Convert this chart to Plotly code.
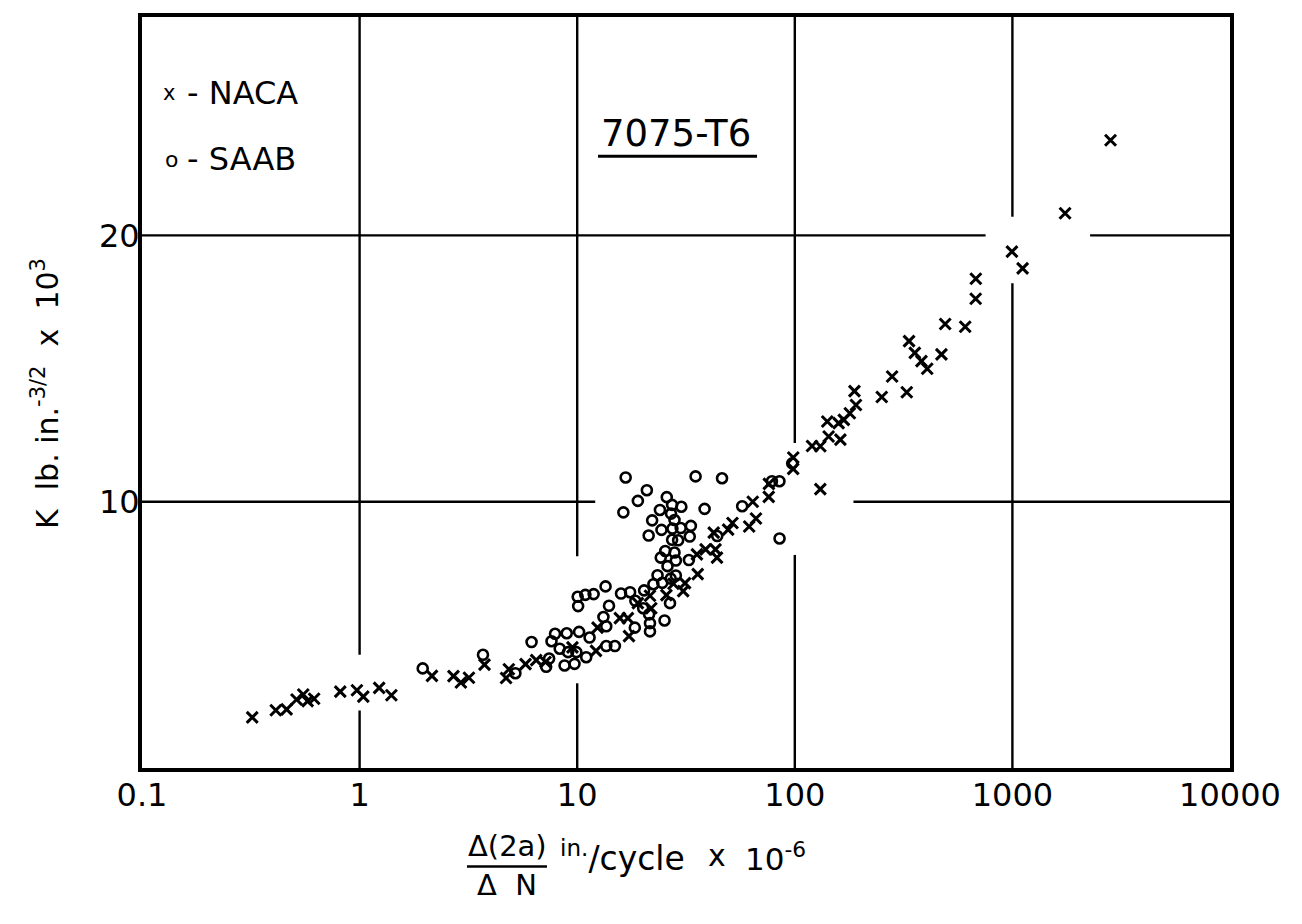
import plotly.graph_objects as go

# ---------------- data ----------------
naca_x = [0.321, 0.412, 0.462, 0.513, 0.551, 0.577, 0.618, 0.815, 0.972, 1.04,
          1.23, 1.40, 2.15, 2.70, 2.92, 3.18, 3.75, 4.71, 4.85, 5.79,
          6.48, 7.15, 9.51, 12.2, 12.4, 15.7, 17.1, 17.3, 19.0, 21.9,
          21.6, 25.7, 27.7, 30.7, 31.3, 35.8, 35.5, 38.9, 43.2, 43.9,
          42.4, 49.4, 51.7, 61.7, 66.3, 64.1, 75.9, 76.0, 98.4, 98.3,
          120, 131, 143, 162, 141, 159, 168, 131, 179, 188,
          191, 251, 280, 327, 335, 356, 382, 406, 472, 491,
          607, 679, 678, 995, 1114, 1746, 2825]
naca_k = [1.90, 2.17, 2.20, 2.57, 2.76, 2.51, 2.60, 2.87, 2.92, 2.68,
          3.01, 2.73, 3.46, 3.45, 3.21, 3.39, 3.88, 3.38, 3.71, 3.90,
          4.05, 3.98, 4.53, 4.40, 5.27, 5.63, 5.63, 4.95, 6.19, 6.00,
          6.47, 6.49, 6.92, 6.64, 6.94, 7.28, 8.02, 8.21, 8.21, 7.90,
          8.84, 8.95, 9.20, 9.07, 9.37, 10.0, 10.18, 10.67, 11.66, 11.23,
          12.09, 12.08, 12.45, 12.33, 13.01, 12.95, 13.07, 10.47, 13.32, 14.15,
          13.63, 13.93, 14.70, 14.11, 16.03, 15.59, 15.28, 14.99, 15.53, 16.67,
          16.57, 18.37, 17.62, 19.39, 18.76, 20.83, 23.57]

saab_x = [1.95, 3.69, 5.20, 6.17, 7.20, 7.43, 7.62, 7.91, 8.31, 8.75,
          8.95, 9.08, 9.72, 9.91, 10.2, 11.0, 11.4, 10.05, 10.9, 11.9,
          13.5, 10.1, 14.0, 13.2, 13.6, 13.6, 14.9, 15.9, 17.5, 18.5,
          18.4, 20.1, 20.3, 21.4, 21.6, 21.6, 22.4, 23.4, 24.6, 25.2,
          26.7, 26.9, 28.4, 26.0, 24.2, 28.4, 32.6, 25.4, 28.0, 21.3,
          27.3, 29.1, 32.9, 24.4, 27.4, 29.9, 33.3, 22.1, 28.0, 24.0,
          27.0, 27.3, 30.1, 25.8, 38.5, 16.3, 19.0, 20.9, 16.7, 35.0,
          46.3, 57.3, 44.0, 85.1, 78.5, 85.0, 97.3]
saab_k = [3.74, 4.25, 3.56, 4.73, 3.80, 4.11, 4.76, 5.04, 4.48, 3.85,
          5.06, 4.35, 3.91, 4.35, 5.11, 4.16, 4.90, 6.43, 6.50, 6.53,
          6.82, 6.08, 6.09, 5.67, 5.32, 4.58, 4.58, 6.55, 6.60, 6.28,
          5.27, 6.00, 6.67, 5.77, 5.44, 5.13, 6.90, 7.24, 6.95, 5.54,
          6.19, 7.11, 7.23, 7.58, 7.90, 7.79, 7.81, 8.15, 8.09, 8.73,
          8.57, 8.55, 8.69, 8.94, 8.99, 9.01, 9.09, 9.30, 9.31, 9.69,
          9.55, 9.88, 9.81, 10.17, 9.73, 9.60, 10.03, 10.43, 10.91, 10.95,
          10.88, 9.83, 8.71, 8.62, 10.77, 10.77, 11.44]

x_ticks = [0.1, 1, 10, 100, 1000, 10000]
x_tick_labels = ["0.1", "1", "10", "100", "1000", "10000"]
y_ticks = [10, 20]
y_tick_labels = ["10", "20"]

# grid lines with the hand-drawn gaps (value, gap start, gap end)
v_grid = [(1, 2.16, 4.25), (10, 3.18, 7.95), (100, 8.0, 12.2), (1000, 18.2, 20.7)]
h_grid = [(10, 12.1, 186), (20, 753, 2275)]

X_MIN, X_MAX = 0.1, 10000
Y_MIN, Y_MAX = 0, 28.2

FONT = "DejaVu Sans"
INK = "#000000"

fig = go.Figure()

# grid segments
gx, gy = [], []
for v, a, b in v_grid:
    gx += [v, v, None, v, v, None]
    gy += [Y_MIN, a, None, b, Y_MAX, None]
for v, a, b in h_grid:
    gx += [X_MIN, a, None, b, X_MAX, None]
    gy += [v, v, None, v, v, None]
fig.add_trace(go.Scatter(x=gx, y=gy, mode="lines", line=dict(color=INK, width=2.4),
                         hoverinfo="skip", showlegend=False))

fig.add_trace(go.Scatter(x=naca_x, y=naca_k, mode="markers", name="NACA",
                         marker=dict(symbol="x-thin", size=11, color=INK,
                                     line=dict(color=INK, width=3)),
                         showlegend=False))
fig.add_trace(go.Scatter(x=saab_x, y=saab_k, mode="markers", name="SAAB",
                         marker=dict(symbol="circle-open", size=10, color=INK,
                                     line=dict(color=INK, width=2.6)),
                         showlegend=False))

# page has an 8px body margin: figure is drawn at (8, 8)
OFF = 8
W, H = 1302 - 2 * OFF, 924 - 2 * OFF
# plot area in page pixels
L, R, T, B = 142, 1230, 13, 768


def px(x):
    return (x - L) / (R - L)


def py(y):
    return (B - y) / (B - T)


ann = []
ann.append(dict(x=px(169), y=py(89), text="x", font=dict(size=21)))
ann.append(dict(x=px(185), y=py(89), text="- NACA", xanchor="left", font=dict(size=32)))
ann.append(dict(x=px(171), y=py(156), text="o", font=dict(size=22)))
ann.append(dict(x=px(185), y=py(156), text="- SAAB", xanchor="left", font=dict(size=32)))
ann.append(dict(x=px(676), y=py(130), text="7075-T6", font=dict(size=37)))
ann.append(dict(x=px(46), y=py(392), text="K  lb. in.<sup>-3/2</sup>  x  10<sup>3</sup>",
                textangle=-90, font=dict(size=30)))
ann.append(dict(x=px(507), y=py(846), text="Δ(2a)", font=dict(size=29)))
ann.append(dict(x=px(507), y=py(886), text="Δ  N", font=dict(size=29)))
ann.append(dict(x=px(558), y=py(857), text="<sup>in.</sup>/cycle",
                xanchor="left", font=dict(size=33)))
ann.append(dict(x=px(717), y=py(856), text="x", font=dict(size=30)))
ann.append(dict(x=px(743), y=py(857), text="10<sup>-6</sup>",
                xanchor="left", font=dict(size=31)))
annotations = []
for a in ann:
    f = a.pop("font")
    d = dict(xref="paper", yref="paper", showarrow=False, xanchor="center", yanchor="middle")
    d.update(a)
    d["font"] = dict(family=FONT, color=INK, size=f["size"])
    annotations.append(d)

shapes = [
    dict(type="line", xref="paper", yref="paper", x0=px(598), x1=px(757), y0=py(153), y1=py(153),
         line=dict(color=INK, width=3)),
    dict(type="line", xref="paper", yref="paper", x0=px(467), x1=px(547), y0=py(867), y1=py(867),
         line=dict(color=INK, width=2.5)),
]

fig.update_layout(
    width=W, height=H,
    margin=dict(l=L - OFF, r=W - (R - OFF), t=T - OFF, b=H - (B - OFF), pad=0),
    paper_bgcolor="white", plot_bgcolor="white",
    font=dict(family=FONT, color=INK, size=28),
    annotations=annotations, shapes=shapes,
    showlegend=False,
)
fig.update_xaxes(type="log", range=[-1, 4], tickvals=x_ticks, ticktext=x_tick_labels,
                 showgrid=False, zeroline=False, showline=True, mirror=True,
                 linecolor=INK, linewidth=4, ticks="", ticklabelstandoff=-4,
                 tickfont=dict(size=32, family=FONT))
fig.update_yaxes(range=[Y_MIN, Y_MAX], tickvals=y_ticks, ticktext=y_tick_labels,
                 showgrid=False, zeroline=False, showline=True, mirror=True,
                 linecolor=INK, linewidth=4, ticks="", ticklabelstandoff=-8,
                 tickfont=dict(size=32, family=FONT))

fig.write_html("out.html")
